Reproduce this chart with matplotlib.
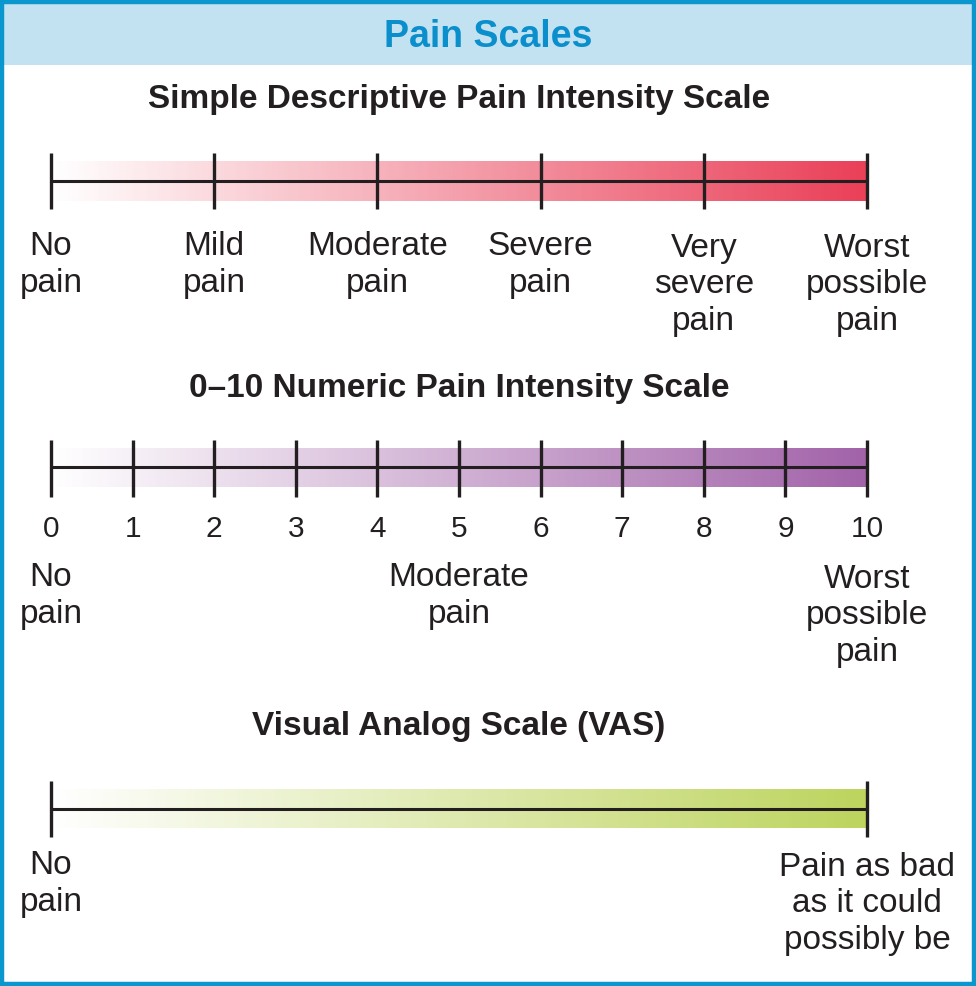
import matplotlib
matplotlib.use('Agg')
import matplotlib.pyplot as plt
import numpy as np
from matplotlib.colors import LinearSegmentedColormap

plt.rcParams['font.family'] = ['Liberation Sans', 'DejaVu Sans']

W, H = 976, 986

# data
header_title = 'Pain Scales'

sds_title = 'Simple Descriptive Pain Intensity Scale'
sds_ticks = [0, 1, 2, 3, 4, 5]
sds_labels = ['No\npain', 'Mild\npain', 'Moderate\npain', 'Severe\npain',
              'Very\nsevere\npain', 'Worst\npossible\npain']

nrs_title = '0\u201310 Numeric Pain Intensity Scale'
nrs_ticks = list(range(11))
nrs_numbers = [str(i) for i in nrs_ticks]
nrs_anchor_pos = [0, 5, 10]
nrs_anchor_labels = ['No\npain', 'Moderate\npain', 'Worst\npossible\npain']

vas_title = 'Visual Analog Scale (VAS)'
vas_ticks = [0, 1]
vas_labels = ['No\npain', 'Pain as bad\nas it could\npossibly be']

# colours
border_col = '#0a97cd'
header_bg = '#c2e2f2'
header_fg = '#0a8fcc'
ink = '#231f20'
sds_col = '#ea4058'
nrs_col = '#a263a9'
vas_col = '#bdd45e'

fig = plt.figure(figsize=(W / 100, H / 100), dpi=100)

# background frame
bg = fig.add_axes([0, 0, 1, 1])
bg.set_xlim(0, W)
bg.set_ylim(H, 0)
bg.axis('off')
bg.add_patch(plt.Rectangle((2, 2), W - 4, 63, facecolor=header_bg, edgecolor='none'))
bg.add_patch(plt.Rectangle((2, 2), W - 4, H - 4, facecolor='none', edgecolor=border_col, linewidth=3.2))
bg.text(W / 2, 47, header_title, ha='center', va='baseline', fontsize=27,
        fontweight='bold', color=header_fg)

x0, x1 = 51, 867
LINE_PX = 38


def scale_axes(n):
    ax = fig.add_axes([x0 / W, 0, (x1 - x0) / W, 1])
    ax.set_xlim(0, n)
    ax.set_ylim(H, 0)
    ax.axis('off')
    ax.patch.set_alpha(0)
    return ax


def draw_bar(ax, n, ticks, col, y_line, tick_top, tick_bot, band_top, band_bot):
    cmap = LinearSegmentedColormap.from_list('g', ['#ffffff', col])
    grad = np.linspace(0, 1, 256).reshape(1, -1)
    ax.imshow(grad, extent=(0, n, band_bot, band_top), aspect='auto', cmap=cmap,
              interpolation='bilinear', zorder=1)
    ax.set_xlim(0, n)
    ax.set_ylim(H, 0)
    ax.plot([0, n], [y_line, y_line], color=ink, lw=2.2, zorder=3,
            solid_capstyle='butt', clip_on=False)
    for t in ticks:
        ax.plot([t, t], [tick_top, tick_bot], color=ink, lw=2.4, zorder=3,
                solid_capstyle='butt', clip_on=False)


def labels(ax, pos, texts, y, size=24):
    # y is the baseline of the first line; matplotlib's baseline is the last line
    lsp = LINE_PX / (size * 100 / 72) * 1.086
    for p, s in zip(pos, texts):
        nl = s.count('\n')
        ax.text(p, y + nl * LINE_PX, s, ha='center', va='baseline', fontsize=size,
                color=ink, linespacing=lsp, clip_on=False)


# simple descriptive scale
ax1 = scale_axes(5)
ax1.text(2.5, 108, sds_title, ha='center', va='baseline', fontsize=24,
         fontweight='bold', color=ink)
draw_bar(ax1, 5, sds_ticks, sds_col, 181, 153, 209, 161, 201)
labels(ax1, sds_ticks, sds_labels, 254)

# numeric scale
ax2 = scale_axes(10)
ax2.text(5, 397, nrs_title, ha='center', va='baseline', fontsize=24,
         fontweight='bold', color=ink)
draw_bar(ax2, 10, nrs_ticks, nrs_col, 467, 440, 497, 448, 487)
labels(ax2, nrs_ticks, nrs_numbers, 537, size=21.5)
labels(ax2, nrs_anchor_pos, nrs_anchor_labels, 585)

# visual analog scale
ax3 = scale_axes(1)
ax3.text(0.5, 735, vas_title, ha='center', va='baseline', fontsize=24,
         fontweight='bold', color=ink)
draw_bar(ax3, 1, vas_ticks, vas_col, 809, 781, 837, 789, 828)
labels(ax3, vas_ticks, vas_labels, 873)

fig.savefig('out.png', dpi=100)
